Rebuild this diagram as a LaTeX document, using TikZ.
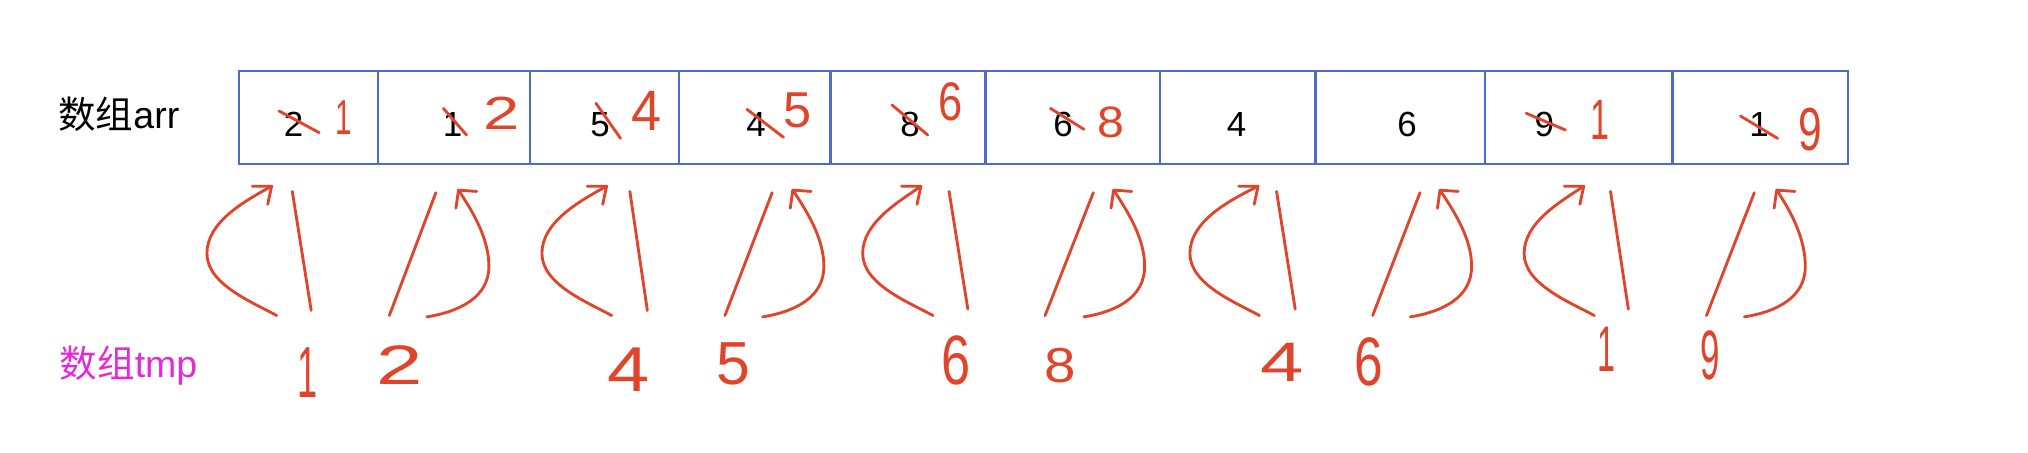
\documentclass[tikz,border=0pt]{standalone}
\usepackage{fontspec}
\setmainfont{Liberation Sans}
\newfontfamily\cjk{Noto Sans CJK SC}
\definecolor{hand}{HTML}{E0452B}
\definecolor{boxblue}{HTML}{4B6CC8}
\definecolor{tmpmag}{HTML}{E32AD9}
\tikzset{
  cell/.style={draw=boxblue, line width=1.8pt, minimum height=72pt, inner sep=0pt},
  blk/.style={font=\fontsize{27}{27}\selectfont, text=black, inner sep=0pt},
  rdig/.style={font=\fontsize{#1}{#1}\selectfont, text=hand, inner sep=0pt},
  stroke/.style={draw=hand, line width=2.2pt, line cap=round, line join=round},
  lbl/.style={font=\fontsize{29}{29}\selectfont, inner sep=0pt, anchor=west}
}
\newcommand\hs[2]{\scalebox{#1}[1]{#2}}
\newcommand\larc[3]{%
  \draw[stroke] (#1,244) .. controls ({#1-18},234) and (#2,220) .. (#2,196)
     .. controls (#2,172) and ({#2+28},156) .. (#3,144);
  \draw[stroke] ({#3-15},144) -- (#3,144) -- ({#3-3},158);
}
\newcommand\rarc[3]{%
  \draw[stroke] (#1,245) .. controls ({#1+25},241) and (#2,230) .. (#2,206)
     .. controls (#2,185) and ({#3+12},165) .. (#3,147);
  \draw[stroke] ({#3+14},148) -- (#3,147) -- ({#3-2},161);
}
\begin{document}
\begin{tikzpicture}[x=1pt,y=-1pt]
\useasboundingbox (0,0) rectangle (1568,349.5);
% labels
\node[lbl, text=black] (arrlbl) at (45,88) {{\cjk 数组}arr};
\node[lbl, text=tmpmag] (tmplbl) at (46,283) {{\cjk 数组}tmp};
% cells
\node[cell, minimum width=107pt] (c1) at (238.5,91) {};
\node[cell, minimum width=118pt] (c2) at (351,91) {};
\node[cell, minimum width=115pt] (c3) at (467.5,91) {};
\node[cell, minimum width=117pt] (c4) at (583.5,91) {};
\node[cell, minimum width=120pt] (c5) at (702,91) {};
\node[cell, minimum width=135pt] (c6) at (829.5,91) {};
\node[cell, minimum width=120pt] (c7) at (957,91) {};
\node[cell, minimum width=131pt] (c8) at (1082.5,91) {};
\node[cell, minimum width=145pt] (c9) at (1220.5,91) {};
\node[cell, minimum width=136pt] (c10) at (1361,91) {};
% black digits
\node[blk] (b1) at (227,96) {2};
\node[blk] (b2) at (350,96) {1};
\node[blk] (b3) at (464,96) {5};
\node[blk] (b4) at (584.5,96) {4};
\node[blk] (b5) at (703.6,96) {8};
\node[blk] (b6) at (822,96) {6};
\node[blk] (b7) at (956,96) {4};
\node[blk] (b8) at (1088,96) {6};
\node[blk] (b9) at (1194,96) {9};
\node[blk] (b10) at (1360,96) {1};
% strike-throughs
\draw[stroke] (215.7,85.8) -- (246.8,102.6);
\draw[stroke] (342.8,83.8) -- (360.7,104.4);
\draw[stroke] (460.8,79.9) -- (479.8,107);
\draw[stroke] (577.5,84.5) -- (605.8,106.2);
\draw[stroke] (689.7,81.2) -- (717.3,104.4);
\draw[stroke] (812.2,83.8) -- (838.1,100);
\draw[stroke] (1180,87.6) -- (1210.3,100.5);
\draw[stroke] (1345.7,89.7) -- (1374.4,107);
% red digits in cells
\node[rdig=38] (r1) at (266,90.8) {\hs{0.6}{1}};
\node[rdig=36] (r2) at (388,87.5) {\hs{1.4}{2}};
\node[rdig=44] (r3) at (500,85.7) {\hs{0.95}{4}};
\node[rdig=39] (r4) at (617,85) {\hs{1.0}{5}};
\node[rdig=42] (r5) at (735,79) {\hs{0.8}{6}};
\node[rdig=34] (r6) at (859,94.7) {\hs{1.1}{8}};
\node[rdig=44] (r9) at (1237,93) {\hs{0.6}{1}};
\node[rdig=47] (r10) at (1400,100) {\hs{0.7}{9}};
% tmp row digits
\node[rdig=56] (t1) at (238,288) {\hs{0.5}{1}};
\node[rdig=43] (t2) at (309,282.5) {\hs{1.5}{2}};
\node[rdig=49] (t3) at (486,285.5) {\hs{1.2}{4}};
\node[rdig=47] (t4) at (567,281) {\hs{1.0}{5}};
\node[rdig=54] (t5) at (739,279) {\hs{0.75}{6}};
\node[rdig=38] (t6) at (820,282.5) {\hs{1.15}{8}};
\node[rdig=43] (t7) at (991,280.5) {\hs{1.4}{4}};
\node[rdig=53] (t8) at (1058,280) {\hs{0.75}{6}};
\node[rdig=50] (t9) at (1242,270) {\hs{0.5}{1}};
\node[rdig=54] (t10) at (1322,274.5) {\hs{0.5}{9}};
% arrows and slashes
\larc{214}{160}{210}
\draw[stroke] (226,148) -- (240.6,240);
\draw[stroke] (337,149) -- (301,244);
\rarc{330}{378}{354.5}
\larc{473}{419}{469}
\draw[stroke] (487,148) -- (500.5,240);
\draw[stroke] (597,149) -- (560.5,244);
\rarc{589.6}{637}{613}
\larc{721.4}{667}{712}
\draw[stroke] (733.8,148) -- (748.3,239);
\draw[stroke] (845.3,149) -- (808,244);
\rarc{838}{885}{861}
\larc{973.8}{920}{972.7}
\draw[stroke] (987,148) -- (1001.4,239);
\draw[stroke] (1097.9,149) -- (1061.3,244);
\rarc{1090.4}{1137.8}{1113.4}
\larc{1232.7}{1178.4}{1224.5}
\draw[stroke] (1245.2,148) -- (1259,239);
\draw[stroke] (1356.4,149) -- (1319.4,244);
\rarc{1348.7}{1395.8}{1373.7}
\end{tikzpicture}
\end{document}
